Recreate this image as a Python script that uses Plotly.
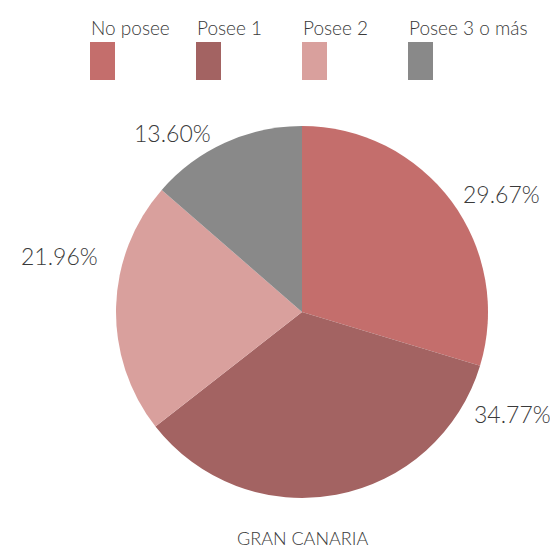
import plotly.graph_objects as go

categories = ["No posee", "Posee 1", "Posee 2", "Posee 3 o más"]
values = [29.67, 34.77, 21.96, 13.60]
colors = ["#c46e6c", "#a36362", "#d9a09d", "#898989"]
title_text = "GRAN CANARIA"

FONT = "Lato Light, Lato"
TXT = "#3a3a3a"
W, H = 558, 554
OFF = 8  # page body margin offset


def px_x(x):
    return (x - OFF) / W


def px_y(y):
    return 1 - (y - OFF) / H


fig = go.Figure()
fig.add_trace(go.Pie(
    labels=categories,
    values=values,
    sort=False,
    direction="clockwise",
    rotation=0,
    marker=dict(colors=colors, line=dict(width=0)),
    textinfo="none",
    hoverinfo="label+percent",
    showlegend=False,
    domain=dict(x=[px_x(116), px_x(488)], y=[px_y(498), px_y(126)]),
))

# percentage labels placed beside their slices, as in the reference
label_pos = [(501, 194), (512, 414), (59, 256), (172, 133)]
annotations = []
for v, (px, py) in zip(values, label_pos):
    annotations.append(dict(
        x=px_x(px), y=px_y(py), xref="paper", yref="paper",
        text=f"{v:.2f}%", showarrow=False, xanchor="center", yanchor="middle",
        font=dict(family=FONT, size=23, color=TXT, weight=300),
    ))

# legend: text above a tall colour swatch
shapes = []
for i, (cat, col) in enumerate(zip(categories, colors)):
    x0 = 90 + i * 106
    shapes.append(dict(type="rect", xref="paper", yref="paper",
                       x0=px_x(x0), x1=px_x(x0 + 25), y0=px_y(80), y1=px_y(42),
                       fillcolor=col, line=dict(width=0)))
    annotations.append(dict(
        x=px_x(x0 - 1), y=px_y(27), xref="paper", yref="paper",
        text=cat, showarrow=False, xanchor="left", yanchor="middle",
        font=dict(family=FONT, size=19, color=TXT, weight=300),
    ))

annotations.append(dict(
    x=px_x(302), y=px_y(538), xref="paper", yref="paper",
    text=title_text, showarrow=False, xanchor="center", yanchor="middle",
    font=dict(family=FONT, size=18, color=TXT, weight=300),
))

fig.update_layout(
    width=W, height=H,
    margin=dict(l=0, r=0, t=0, b=0),
    paper_bgcolor="white", plot_bgcolor="white",
    annotations=annotations, shapes=shapes,
)
fig.write_html("out.html")
